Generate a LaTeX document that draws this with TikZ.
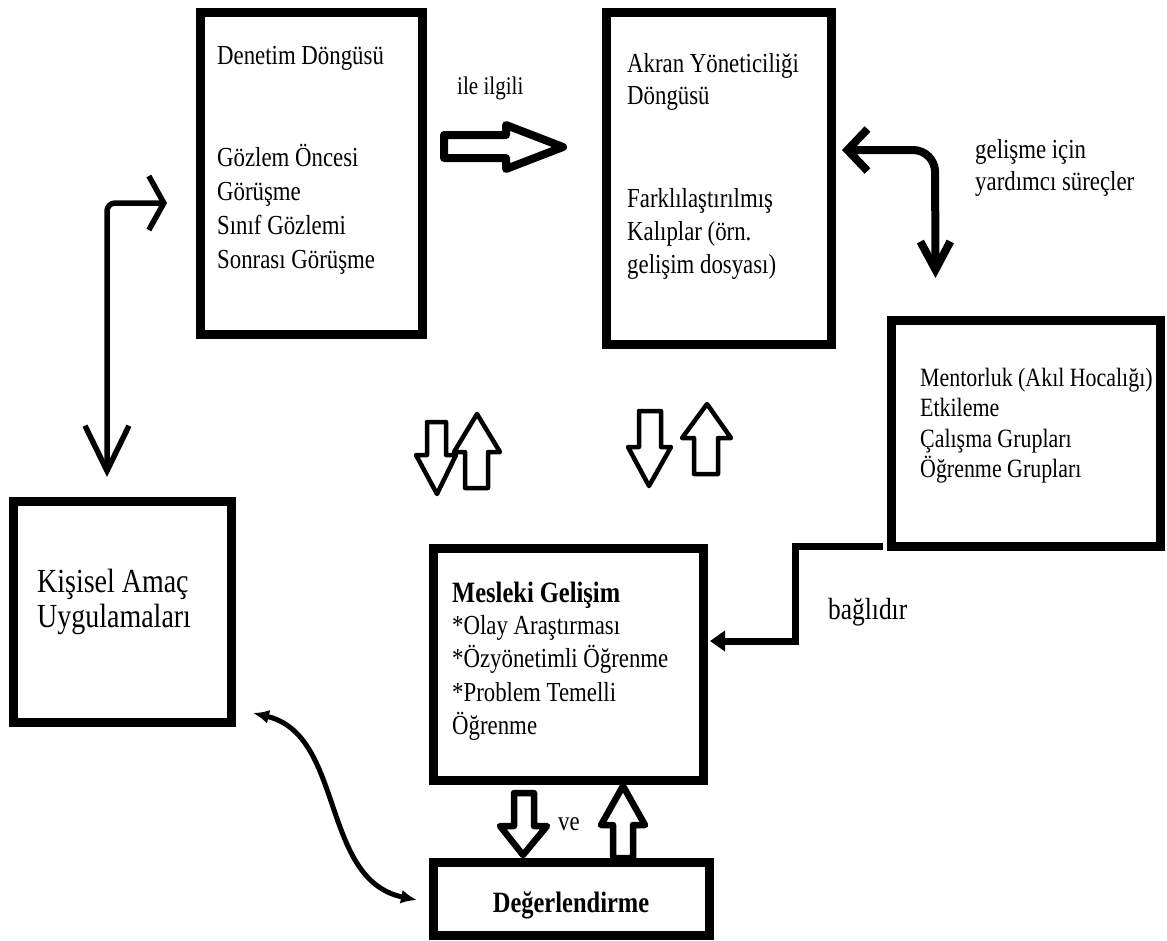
\documentclass[tikz,border=0pt]{standalone}
\usepackage{fontspec}
\setmainfont{Liberation Serif}[FakeStretch=0.83]
\usetikzlibrary{arrows.meta,calc}
\begin{document}
\begin{tikzpicture}[x=1pt,y=-1pt,
  tbox/.style={draw, line width=9pt, inner sep=0pt, outer sep=0pt, rectangle},
  txt/.style={anchor=base west, inner sep=0pt, font=\fontsize{27.5}{34}\selectfont},
  ctxt/.style={anchor=base west, inner sep=0pt, font=\fontsize{26.4}{31}\selectfont},
  bigtxt/.style={anchor=base west, inner sep=0pt, font=\fontsize{33.7}{40}\selectfont},
  boldtxt/.style={inner sep=0pt, font=\fontsize{29.5}{34}\selectfont\bfseries},
  blk/.style={draw, line join=round},
  hand/.style={draw, line cap=round, line join=round}]
\useasboundingbox (0,0) rectangle (1167,940);

% boxes
\node[tbox, minimum width=222pt, minimum height=322pt] (A) at (311,173) {};
\node[tbox, minimum width=225pt, minimum height=332pt] (B) at (718.5,178) {};
\node[tbox, minimum width=269pt, minimum height=226pt] (C) at (1025.5,433) {};
\node[tbox, minimum width=218pt, minimum height=221pt] (D) at (122,611.5) {};
\node[tbox, minimum width=270pt, minimum height=232pt] (E) at (568,664) {};
\node[tbox, minimum width=276pt, minimum height=73pt] (F) at (571,898.5) {};

% box A text
\node[txt] (a1) at (217,64) {Denetim Döngüsü};
\node[txt] (a2) at (217,166) {Gözlem Öncesi};
\node[txt] (a3) at (217,200) {Görüşme};
\node[txt] (a4) at (217,234) {Sınıf Gözlemi};
\node[txt] (a5) at (217,268) {Sonrası Görüşme};
% box B text
\node[txt] (b1) at (627,72) {Akran Yöneticiliği};
\node[txt] (b2) at (627,104) {Döngüsü};
\node[txt] (b3) at (627,207) {Farklılaştırılmış};
\node[txt] (b4) at (627,240) {Kalıplar (örn.};
\node[txt] (b5) at (627,273) {gelişim dosyası)};
% box C text
\node[ctxt] (c1) at (920,386) {Mentorluk (Akıl Hocalığı)};
\node[ctxt] (c2) at (920,416) {Etkileme};
\node[ctxt] (c3) at (920,447) {Çalışma Grupları};
\node[ctxt] (c4) at (920,477) {Öğrenme Grupları};
% box D text
\node[bigtxt] (d1) at (37,592) {Kişisel Amaç};
\node[bigtxt] (d2) at (37,627) {Uygulamaları};
% box E text
\node[boldtxt, anchor=base west] (e1) at (452,602) {Mesleki Gelişim};
\node[txt] (e2) at (452,634) {*Olay Araştırması};
\node[txt] (e3) at (452,667) {*Özyönetimli Öğrenme};
\node[txt] (e4) at (452,701) {*Problem Temelli};
\node[txt] (e5) at (452,734) {Öğrenme};
% box F text
\node[boldtxt, anchor=base] (f1) at (571,912) {Değerlendirme};

% labels
\node[txt, font=\fontsize{25.4}{30}\selectfont] (l1) at (457,94) {ile ilgili};
\node[txt] (l2) at (975,158) {gelişme için};
\node[txt] (l3) at (975,190) {yardımcı süreçler};
\node[txt, font=\fontsize{30.6}{34}\selectfont] (l4) at (828,619) {bağlıdır};
\node[txt] (l5) at (558,830) {ve};

% block arrows
\draw[blk, line width=8pt] (444,135) -- (506,135) -- (506,125) -- (563,147) -- (506,169) -- (506,158) -- (444,158) -- cycle;
\draw[blk, line width=4.5pt] (427,422) -- (446,422) -- (446,455) -- (456,455) -- (437,494) -- (416,455) -- (427,455) -- cycle;
\draw[blk, line width=4.5pt] (465,488) -- (488,488) -- (488,452) -- (500,452) -- (477,414) -- (454,452) -- (465,452) -- cycle;
\draw[blk, line width=4.5pt] (639,411) -- (661,411) -- (661,447) -- (671,447) -- (649,486) -- (628,447) -- (639,447) -- cycle;
\draw[blk, line width=4.5pt] (694,474) -- (718,474) -- (718,438) -- (731,438) -- (707,404) -- (682,438) -- (694,438) -- cycle;
\draw[blk, line width=6.5pt] (514,793) -- (534,793) -- (534,826) -- (547,826) -- (523,855) -- (500,826) -- (514,826) -- cycle;
\draw[blk, line width=6.5pt] (613,858) -- (633,858) -- (633,825) -- (645,825) -- (623,786) -- (601,825) -- (613,825) -- cycle;

% connector A <-> D
\coordinate (atip) at ($(A.west)+(-33,30)$);
\coordinate (acorner) at (107,203);
\coordinate (dtip) at ($(D.north)+(-15,-24)$);
\draw[hand, line width=5.5pt, rounded corners=8pt,
  {Straight Barb[length=45pt,width=44pt]}-{Straight Barb[length=15pt,width=54pt]}]
  (dtip) -- (acorner) -- (atip);

% connector B <-> C
\coordinate (btip) at ($(B.east)+(11,-28)$);
\coordinate (bcorner) at (935,150);
\coordinate (ctip) at ($(C.north)+(-90,-42)$);
\draw[hand, line width=8pt, rounded corners=22pt,
  {Straight Barb[length=20pt,width=42pt]}-{Straight Barb[length=28pt,width=30pt]}]
  (btip) -- (bcorner) -- (ctip);

% connector C -> E
\coordinate (cstart) at ($(C.south west)+(-8,0)$);
\coordinate (etip) at ($(E.east)+(7,-23)$);
\draw[line width=7pt, -{Triangle[length=15pt,width=20pt]}]
  (cstart) -- (795,546) -- (795,641) -- (etip);

% connector D <-> F (curved)
\coordinate (dend) at ($(D.south east)+(22,-9)$);
\coordinate (fend) at ($(F.west)+(-16,1.5)$);
\draw[line width=5pt, {Latex[length=16pt,width=14pt]}-{Latex[length=16pt,width=14pt]}]
  (dend) .. controls (345,735) and (320,880) .. (fend);
\end{tikzpicture}
\end{document}
